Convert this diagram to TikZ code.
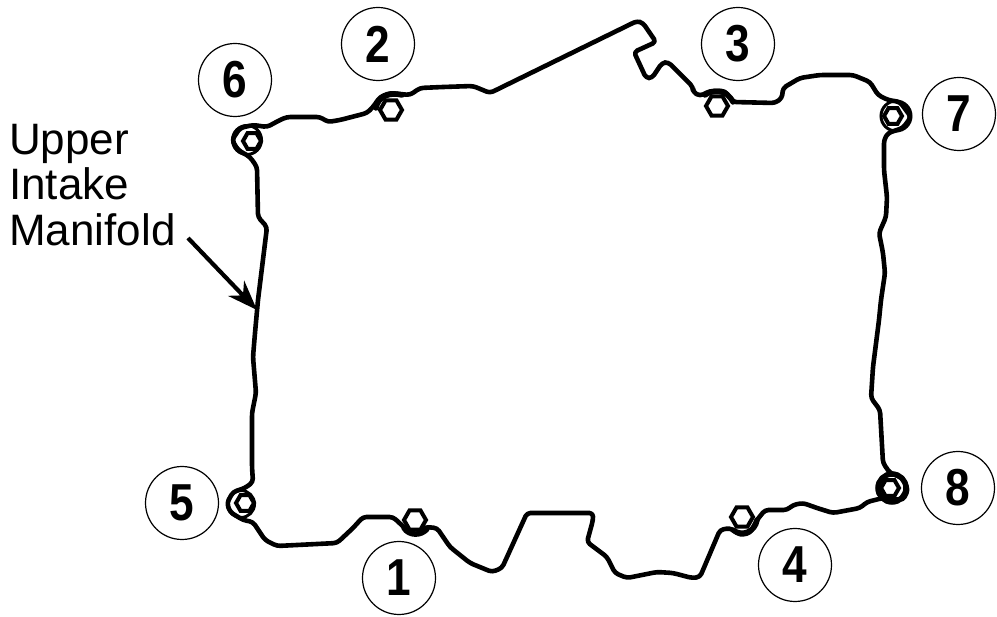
\documentclass[tikz,border=0pt]{standalone}
\usepackage{fontspec}
\setmainfont{Liberation Sans}
\newfontfamily\numfont[FakeStretch=0.85]{Liberation Sans}
\usetikzlibrary{shapes.geometric,arrows.meta}
\tikzset{
  gasket/.style={draw=black,line width=4.6pt,line join=round,line cap=round,rounded corners=3.5pt},
  bolt/.style={regular polygon,regular polygon sides=6,draw=black,fill=white,line width=4pt,minimum size=22pt,inner sep=0pt},
  smallbolt/.style={bolt,minimum size=18pt},
  numcircle/.style={circle,draw=black,line width=1.2pt,minimum size=73pt,inner sep=0pt,font=\numfont\bfseries\fontsize{52pt}{52pt}\selectfont},
  callout/.style={font=\fontsize{44pt}{45.5pt}\selectfont,align=left,anchor=north west,inner sep=0pt},
  leader/.style={draw=black,line width=4.2pt,-{Stealth[length=30pt,width=22pt]}},
  ring/.style={draw=black,line width=3pt},
  heavyring/.style={draw=black,line width=5.5pt,line cap=round}
}
\begin{document}
\begin{tikzpicture}[x=1pt,y=-1pt]
\useasboundingbox (0,0) rectangle (997,617);
% gasket outline
\path[gasket] (253,125) -- (267,127) -- (280,120) -- (287,117) -- (320,117) -- (328,122) -- (340,120) -- (367,113) -- (373,107) -- (380,97) -- (390,93) -- (410,95) -- (420,88) -- (443,87) -- (473,86) -- (490,93)
 -- (637,21) -- (643,23) -- (656,42) -- (634,52) -- (646,78) -- (652,78) -- (662,63) -- (668,62) -- (693,87) -- (693,92) -- (700,96) -- (710,91) -- (725,91) -- (733,102) -- (775,103) -- (782,98) -- (783,88) -- (800,78) -- (820,75) -- (853,75) -- (870,82) -- (878,95) -- (888,100) -- (900,102) -- (911,117) -- (903,128) -- (888,133) -- (884,140)
 -- (884,170) -- (887,197) -- (886,217) -- (879,233) -- (883,253) -- (885,273) -- (881,300) -- (879,320) -- (873,367) -- (871,398) -- (880,410) -- (883,463) -- (890,473) -- (903,478) -- (908,490) -- (903,500) -- (883,498) -- (867,502) -- (860,508) -- (833,513) -- (817,508) -- (803,503) -- (793,505) -- (787,510) -- (765,510) -- (757,520) -- (750,533) -- (740,535) -- (730,528) -- (720,530) -- (700,577) -- (692,578) -- (673,573) -- (657,572) -- (627,578) -- (615,573) -- (607,557) -- (587,542) -- (593,520) -- (593,513) -- (527,513)
 -- (502,568) -- (492,572) -- (470,563) -- (450,547) -- (437,528) -- (425,527) -- (417,535) -- (407,530) -- (393,517) -- (363,517) -- (353,528) -- (337,543) -- (277,546) -- (265,540) -- (253,522) -- (243,520) -- (230,512) -- (227,503) -- (233,492) -- (245,488) -- (253,482)
 -- (252,467) -- (252,413) -- (256,393) -- (253,357) -- (255,333) -- (258,300) -- (267,227) -- (258,217) -- (257,167) -- (250,157) -- (238,150) -- (232,140) -- (240,128) -- cycle;
% rings around the bolts
\draw[ring] (247,140) circle[radius=14.5pt];
\draw[ring] (241,504) circle[radius=13.5pt];
\draw[ring] (896,116) circle[radius=15pt];
\draw[heavyring] (892,488) circle[radius=14pt];
\draw[heavyring] (404,528) .. controls (409,536) and (421,536) .. (427,529);
\draw[heavyring] (376,108) .. controls (378,96) and (390,92) .. (402,95);
\draw[heavyring] (705,95) .. controls (712,90) and (726,88) .. (733,102);
\draw[heavyring] (733,530) .. controls (742,537) and (755,532) .. (757,520);
% bolts
\node[smallbolt] (b6) at (252,141) {};
\node[bolt] (b2) at (391,110) {};
\node[bolt] (b3) at (717,106) {};
\node[smallbolt] (b7) at (893,116) {};
\node[smallbolt] (b5) at (245,503) {};
\node[bolt] (b1) at (415,520) {};
\node[bolt] (b4) at (742,517) {};
\node[smallbolt] (b8) at (890,488) {};
% numbered circles
\node[numcircle] (n1) at (399,578) {1};
\node[numcircle] (n2) at (378,44) {2};
\node[numcircle] (n3) at (738,44) {3};
\node[numcircle] (n4) at (795,565) {4};
\node[numcircle] (n5) at (182,503) {5};
\node[numcircle] (n6) at (235,80) {6};
\node[numcircle] (n7) at (959,114) {7};
\node[numcircle] (n8) at (958,488) {8};
% callout
\node[callout] (lbl) at (9,124) {Upper\\Intake\\Manifold};
\coordinate (tail) at (188,238);
\coordinate (tip) at (257,310);
\draw[leader] (tail) -- (tip);
\end{tikzpicture}
\end{document}
